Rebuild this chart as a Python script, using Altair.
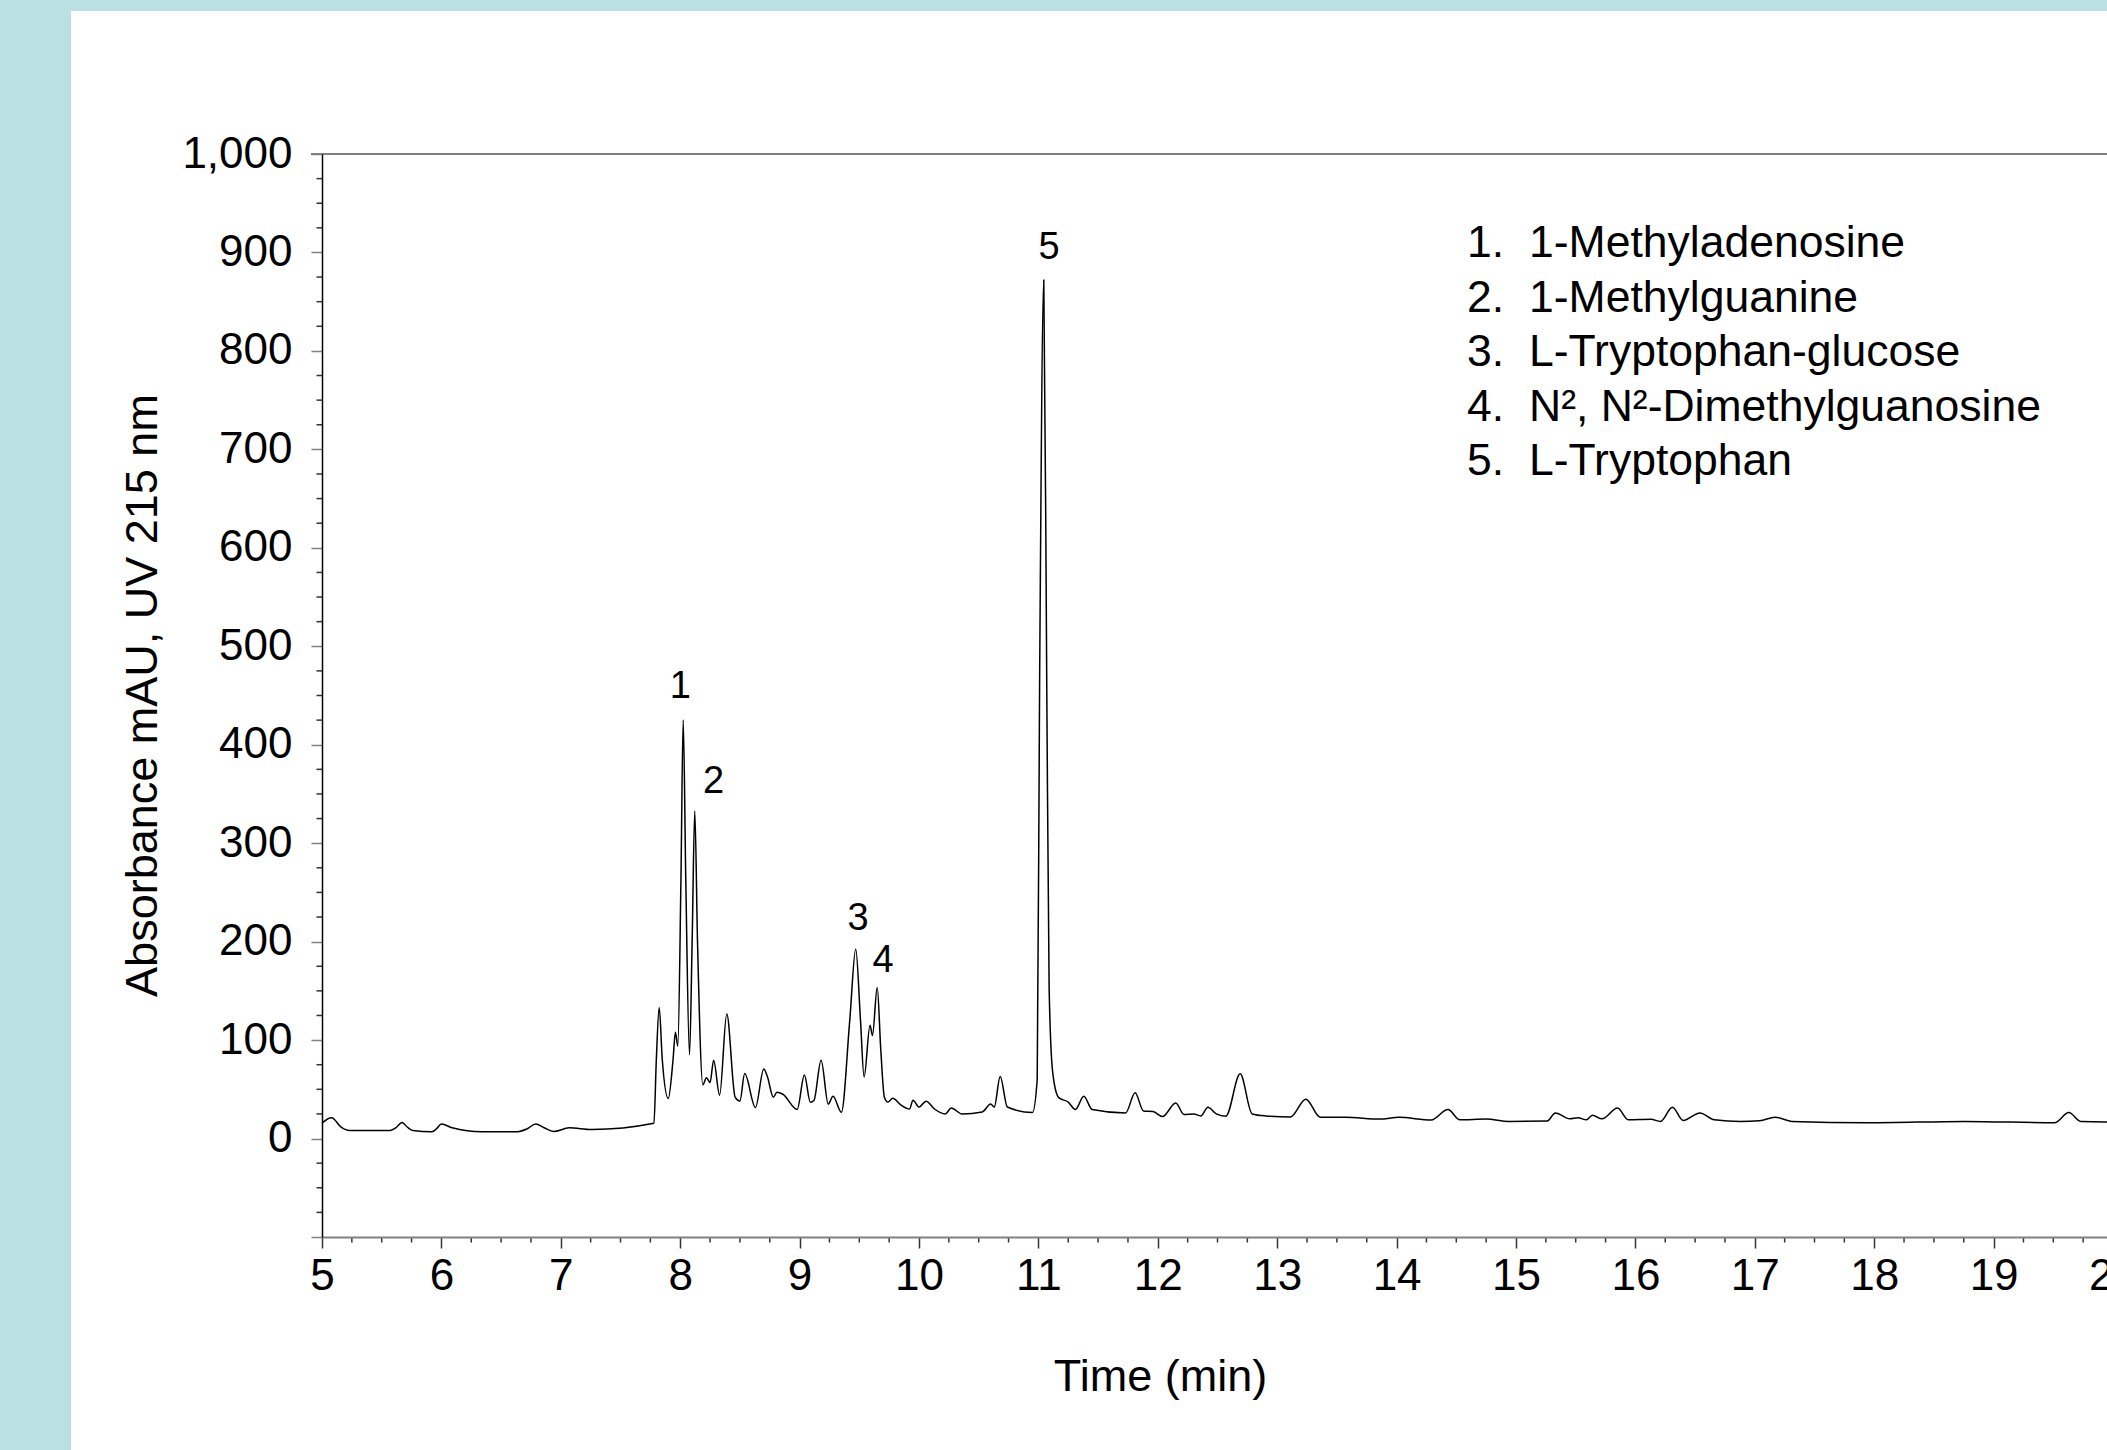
import altair as alt
import pandas as pd

FONT = "Liberation Sans"
TEAL = "#bae0e3"

# ---- chromatogram trace ----
time_min = [
    5.00, 5.08, 5.16, 5.23, 5.57, 5.62, 5.67, 5.72, 5.76, 5.92, 5.96, 6.00, 6.09,
    6.34, 6.62, 6.72, 6.79, 6.86, 6.94, 7.07, 7.26, 7.78, 7.80, 7.824, 7.85, 7.90,
    7.94, 7.96, 7.98, 8.006, 8.025, 8.047, 8.078, 8.10, 8.122, 8.145, 8.19, 8.22,
    8.25, 8.28, 8.33, 8.39, 8.46, 8.50, 8.54, 8.63, 8.70, 8.73, 8.78, 8.81, 8.86,
    8.98, 9.04, 9.09, 9.12, 9.18, 9.24, 9.28, 9.35, 9.42, 9.47, 9.51, 9.54, 9.59,
    9.61, 9.65, 9.68, 9.71, 9.74, 9.78, 9.85, 9.92, 9.95, 10.00, 10.06, 10.13,
    10.22, 10.27, 10.36, 10.53, 10.60, 10.63, 10.68, 10.74, 10.95, 10.99, 11.01,
    11.045, 11.07, 11.09, 11.12, 11.17, 11.25, 11.31, 11.38, 11.45, 11.73, 11.81,
    11.88, 11.96, 12.04, 12.15, 12.22, 12.30, 12.36, 12.42, 12.49, 12.57, 12.69,
    12.79, 12.90, 13.11, 13.24, 13.36, 13.57, 13.86, 14.02, 14.29, 14.43, 14.53,
    14.75, 14.94, 15.26, 15.33, 15.45, 15.52, 15.59, 15.64, 15.72, 15.85, 15.94,
    16.13, 16.21, 16.31, 16.40, 16.54, 16.66, 16.88, 17.04, 17.17, 17.31, 17.95,
    18.76, 19.51, 19.63, 19.73, 19.93, 20.00,
]
absorbance = [
    15.6, 21.0, 11.6, 8.2, 8.2, 11.0, 16.3, 11.0, 8.2, 6.8, 10.0, 14.9, 10.9,
    6.8, 6.8, 10.0, 14.9, 11.0, 7.1, 10.9, 9.2, 15.5, 80.0, 133.0, 80.0, 40.6,
    80.0, 108.0, 93.8, 261.0, 425.0, 261.0, 85.0, 200.0, 332.6, 200.0, 54.6, 61.8,
    57.0, 79.6, 44.0, 126.6, 42.0, 38.0, 66.0, 31.5, 70.7, 63.0, 42.0, 47.0, 45.0,
    29.6, 64.6, 36.9, 38.6, 79.6, 35.0, 43.0, 26.8, 120.0, 192.6, 120.0, 62.5, 115.0,
    104.6, 153.4, 90.0, 42.0, 37.0, 41.0, 34.0, 30.0, 39.0, 32.0, 38.0, 30.0,
    25.0, 31.0, 25.0, 27.0, 35.0, 32.0, 63.0, 32.0, 26.4, 60.0, 460.0,
    872.0, 460.0, 152.0, 67.0, 41.6, 37.0, 29.5, 42.9, 29.5, 26.0, 46.5,
    28.0, 27.4, 22.3, 36.2, 24.4, 25.0, 23.0, 31.8, 25.0, 22.7, 65.7,
    25.0, 23.0, 22.0, 40.0, 21.6, 21.6, 19.8, 21.6, 18.8, 29.5, 19.0,
    19.8, 17.4, 17.7, 26.0, 20.0, 21.0, 19.0, 23.7, 20.0, 31.0, 19.0,
    19.5, 17.4, 31.8, 18.4, 26.0, 19.0, 17.4, 18.0, 21.7, 17.4, 16.0,
    17.4, 16.0, 26.4, 17.4, 16.9, 17.0,
]

# ---- peak labels ----
peak_ids = ["1", "2", "3", "4", "5"]
peak_label_time = [8.00, 8.28, 9.49, 9.70, 11.09]
peak_label_level = [459, 362, 223, 180, 905]

# ---- compound list ----
legend_numbers = ["1.", "2.", "3.", "4.", "5."]
legend_names = [
    "1-Methyladenosine",
    "1-Methylguanine",
    "L-Tryptophan-glucose",
    "N\u00b2, N\u00b2-Dimethylguanosine",
    "L-Tryptophan",
]

# ---- axis ticks ----
x_major = list(range(5, 21))
x_minor = [5 + 0.25 * i for i in range(61) if i % 4 != 0]
y_major = list(range(-100, 1001, 100))
y_minor = [v for v in range(-100, 1001, 25) if v % 100 != 0]
top_border = [1000]

W, H = 1785, 1083
MINOR = 5.5
x_scale = alt.Scale(domain=[5, 20], range=[0, 1791], zero=False, nice=False)
y_scale = alt.Scale(domain=[-100, 1000], zero=False, nice=False)

x_axis = alt.Axis(
    values=x_major,
    labelExpr="format(datum.value, 'd')",
    labelFont=FONT, labelFontSize=44, labelColor="black", labelPadding=6,
    labelOverlap=False, labelFlush=False,
    tickSize=11, tickColor="#333333", tickWidth=1.5,
    domainColor="#808080", domainWidth=2,
    grid=False,
    title="Time (min)",
    titleFont=FONT, titleFontSize=45, titleFontWeight="normal", titleColor="black",
    titleX=838, titleY=153, titleAlign="center", titleBaseline="alphabetic",
    zindex=1,
)
y_axis = alt.Axis(
    values=y_major,
    labelExpr="datum.value >= 0 ? format(datum.value, ',') : ''",
    labelFont=FONT, labelFontSize=44, labelColor="black", labelPadding=19,
    labelOverlap=False, labelFlush=False,
    tickSize=11, tickColor="#808080", tickWidth=1.5,
    domainColor="black", domainWidth=1.5,
    grid=False,
    title="Absorbance mAU, UV 215 nm",
    titleFont=FONT, titleFontSize=45, titleFontWeight="normal", titleColor="black",
    titleX=-166, titleY=541, titleAngle=270, titleAlign="center", titleBaseline="alphabetic",
    zindex=1,
)

trace_df = pd.DataFrame({"time": time_min, "abs": absorbance})
peaks_df = pd.DataFrame({"id": peak_ids, "t": peak_label_time, "v": peak_label_level})
one = pd.DataFrame({"k": [0]})

# teal frame strips (page decoration, left and top)
left_strip = alt.Chart(one).mark_rect(color=TEAL).encode(
    x=alt.value(-330), x2=alt.value(-251), y=alt.value(-160), y2=alt.value(1400)
)
top_strip = alt.Chart(one).mark_rect(color=TEAL).encode(
    x=alt.value(-330), x2=alt.value(1900), y=alt.value(-160), y2=alt.value(-143)
)

x_minor_ticks = alt.Chart(pd.DataFrame({"m": x_minor})).mark_rule(
    color="#333333", strokeWidth=1.5
).encode(
    x=alt.X("m:Q", scale=x_scale, axis=x_axis),
    y=alt.value(H), y2=alt.value(H + MINOR),
)

y_minor_ticks = alt.Chart(pd.DataFrame({"m": y_minor})).mark_rule(
    color="#333333", strokeWidth=1.5
).encode(
    y=alt.Y("m:Q", scale=y_scale, axis=y_axis),
    x=alt.value(-MINOR), x2=alt.value(0),
)

trace = alt.Chart(trace_df).mark_line(
    color="black", strokeWidth=1.5, interpolate="monotone"
).encode(
    x=alt.X("time:Q", scale=x_scale, axis=x_axis),
    y=alt.Y("abs:Q", scale=y_scale, axis=y_axis),
)

top_line = alt.Chart(pd.DataFrame({"level": top_border})).mark_rule(
    color="#808080", strokeWidth=2
).encode(
    y=alt.Y("level:Q", scale=y_scale, axis=y_axis),
    x=alt.value(-11), x2=alt.value(1800),
)

peak_text = alt.Chart(peaks_df).mark_text(
    font=FONT, fontSize=38, color="black", align="center", baseline="middle"
).encode(
    x=alt.X("t:Q", scale=x_scale, axis=x_axis),
    y=alt.Y("v:Q", scale=y_scale, axis=y_axis),
    text="id:N",
)

legend_num = alt.Chart(one).mark_text(
    text=legend_numbers, font=FONT, fontSize=44.5, color="black",
    align="left", baseline="alphabetic", lineHeight=54.5,
).encode(x=alt.value(1145), y=alt.value(103))

legend_name = alt.Chart(one).mark_text(
    text=legend_names, font=FONT, fontSize=44.5, color="black",
    align="left", baseline="alphabetic", lineHeight=54.5,
).encode(x=alt.value(1207), y=alt.value(103))

chart = alt.layer(
    trace, left_strip, top_strip, x_minor_ticks, y_minor_ticks, top_line,
    peak_text, legend_num, legend_name
).properties(
    width=W, height=H,
    autosize=alt.AutoSizeParams(type="none"),
    padding={"left": 322, "top": 154, "right": 0, "bottom": 213},
    background="white",
).configure_view(stroke="transparent")

chart.save("out.html", embed_options={"renderer": "svg", "actions": False})
